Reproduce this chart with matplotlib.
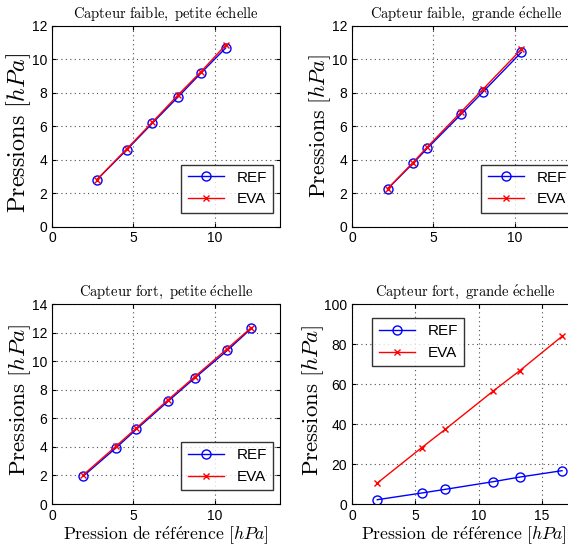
import matplotlib
matplotlib.use("Agg")
import matplotlib.pyplot as plt

plt.rcParams['mathtext.fontset'] = 'cm'
plt.rcParams['font.family'] = 'Liberation Sans'
plt.rcParams['xtick.direction'] = 'in'
plt.rcParams['ytick.direction'] = 'in'

# Donnees lues sur les graphes
# Capteur faible, petite echelle
x1 = [2.75, 4.59, 6.17, 7.73, 9.14, 10.68]
ref1 = [2.79, 4.58, 6.18, 7.73, 9.16, 10.68]
eva1 = [2.80, 4.64, 6.24, 7.85, 9.24, 10.86]
# Capteur faible, grande echelle
x2 = [2.19, 3.75, 4.63, 6.70, 8.07, 10.41]
ref2 = [2.25, 3.78, 4.68, 6.71, 8.07, 10.42]
eva2 = [2.27, 3.83, 4.76, 6.85, 8.23, 10.60]
# Capteur fort, petite echelle
x3 = [1.93, 3.93, 5.18, 7.15, 8.77, 10.78, 12.25]
ref3 = [1.96, 3.93, 5.23, 7.22, 8.83, 10.77, 12.31]
eva3 = [2.05, 4.05, 5.32, 7.32, 8.92, 10.90, 12.37]
# Capteur fort, grande echelle
x4 = [2.0, 5.5, 7.37, 11.16, 13.26, 16.6]
ref4 = [2.17, 5.5, 7.35, 11.19, 13.5, 16.7]
eva4 = [10.5, 28.2, 37.4, 56.6, 66.8, 84.0]

titres = [r'$\mathrm{Capteur\ faible,\ petite\ \acute{e}chelle}$',
          r'$\mathrm{Capteur\ faible,\ grande\ \acute{e}chelle}$',
          r'$\mathrm{Capteur\ fort,\ petite\ \acute{e}chelle}$',
          r'$\mathrm{Capteur\ fort,\ grande\ \acute{e}chelle}$']

fig = plt.figure(figsize=(5.68, 5.5), dpi=100)
positions = [[0.0915, 0.588, 0.401, 0.365],
             [0.6197, 0.588, 0.401, 0.365],
             [0.0915, 0.0836, 0.401, 0.363],
             [0.6197, 0.0836, 0.401, 0.363]]
donnees = [(x1, ref1, eva1), (x2, ref2, eva2), (x3, ref3, eva3), (x4, ref4, eva4)]
xlims = [(0, 14), (0, 14), (0, 14), (0, 18)]
ylims = [(0, 12), (0, 12), (0, 14), (0, 100)]
xticks = [[0, 5, 10], [0, 5, 10], [0, 5, 10], [0, 5, 10, 15]]
yticks = [range(0, 13, 2), range(0, 13, 2), range(0, 15, 2), range(0, 101, 20)]
# taille et position du label y (le pdf d'origine n'est pas homogene)
ylab_size = [17.5, 15.7, 16.6, 16.5]
ylab_pos = [(-0.085, 0.464), (-0.085, 0.5), (-0.085, 0.523), (-0.115, 0.52)]
xlab_pos = [None, None, (0.5, -0.105), (0.491, -0.105)]

for i in range(4):
    ax = fig.add_axes(positions[i])
    x, ref, eva = donnees[i]
    ax.plot(x, ref, color='blue', marker='o', markersize=6.5, fillstyle='none',
            linewidth=1, markeredgewidth=1, label='REF')
    ax.plot(x, eva, color='red', marker='x', markersize=4.5,
            linewidth=1, markeredgewidth=1, label='EVA')
    ax.set_xlim(xlims[i])
    ax.set_ylim(ylims[i])
    ax.set_xticks(xticks[i])
    ax.set_yticks(list(yticks[i]))
    ax.tick_params(labelsize=10, top=True, right=True, length=3)
    ax.grid(True, linestyle=(0, (1, 3)), color='0.3', linewidth=0.8)
    ax.set_title(titres[i], fontsize=10.5, pad=6)
    ax.set_ylabel(r'$\mathrm{Pressions}\ [hPa]$', fontsize=ylab_size[i])
    ax.yaxis.set_label_coords(*ylab_pos[i])
    if i >= 2:
        ax.set_xlabel(r'$\mathrm{Pression\ de\ r\acute{e}f\acute{e}rence}\ [hPa]$',
                      fontsize=12.7)
        ax.xaxis.set_label_coords(*xlab_pos[i])
    if i == 3:
        leg = ax.legend(loc='upper left', bbox_to_anchor=(0.09, 0.93),
                        fancybox=False, edgecolor='black', fontsize=11,
                        handlelength=2.4, borderaxespad=0)
    else:
        leg = ax.legend(loc='lower right', bbox_to_anchor=(0.97, 0.07),
                        fancybox=False, edgecolor='black', fontsize=11,
                        handlelength=2.4, borderaxespad=0)
    leg.get_frame().set_linewidth(1)

plt.savefig("out.png", dpi=100)
